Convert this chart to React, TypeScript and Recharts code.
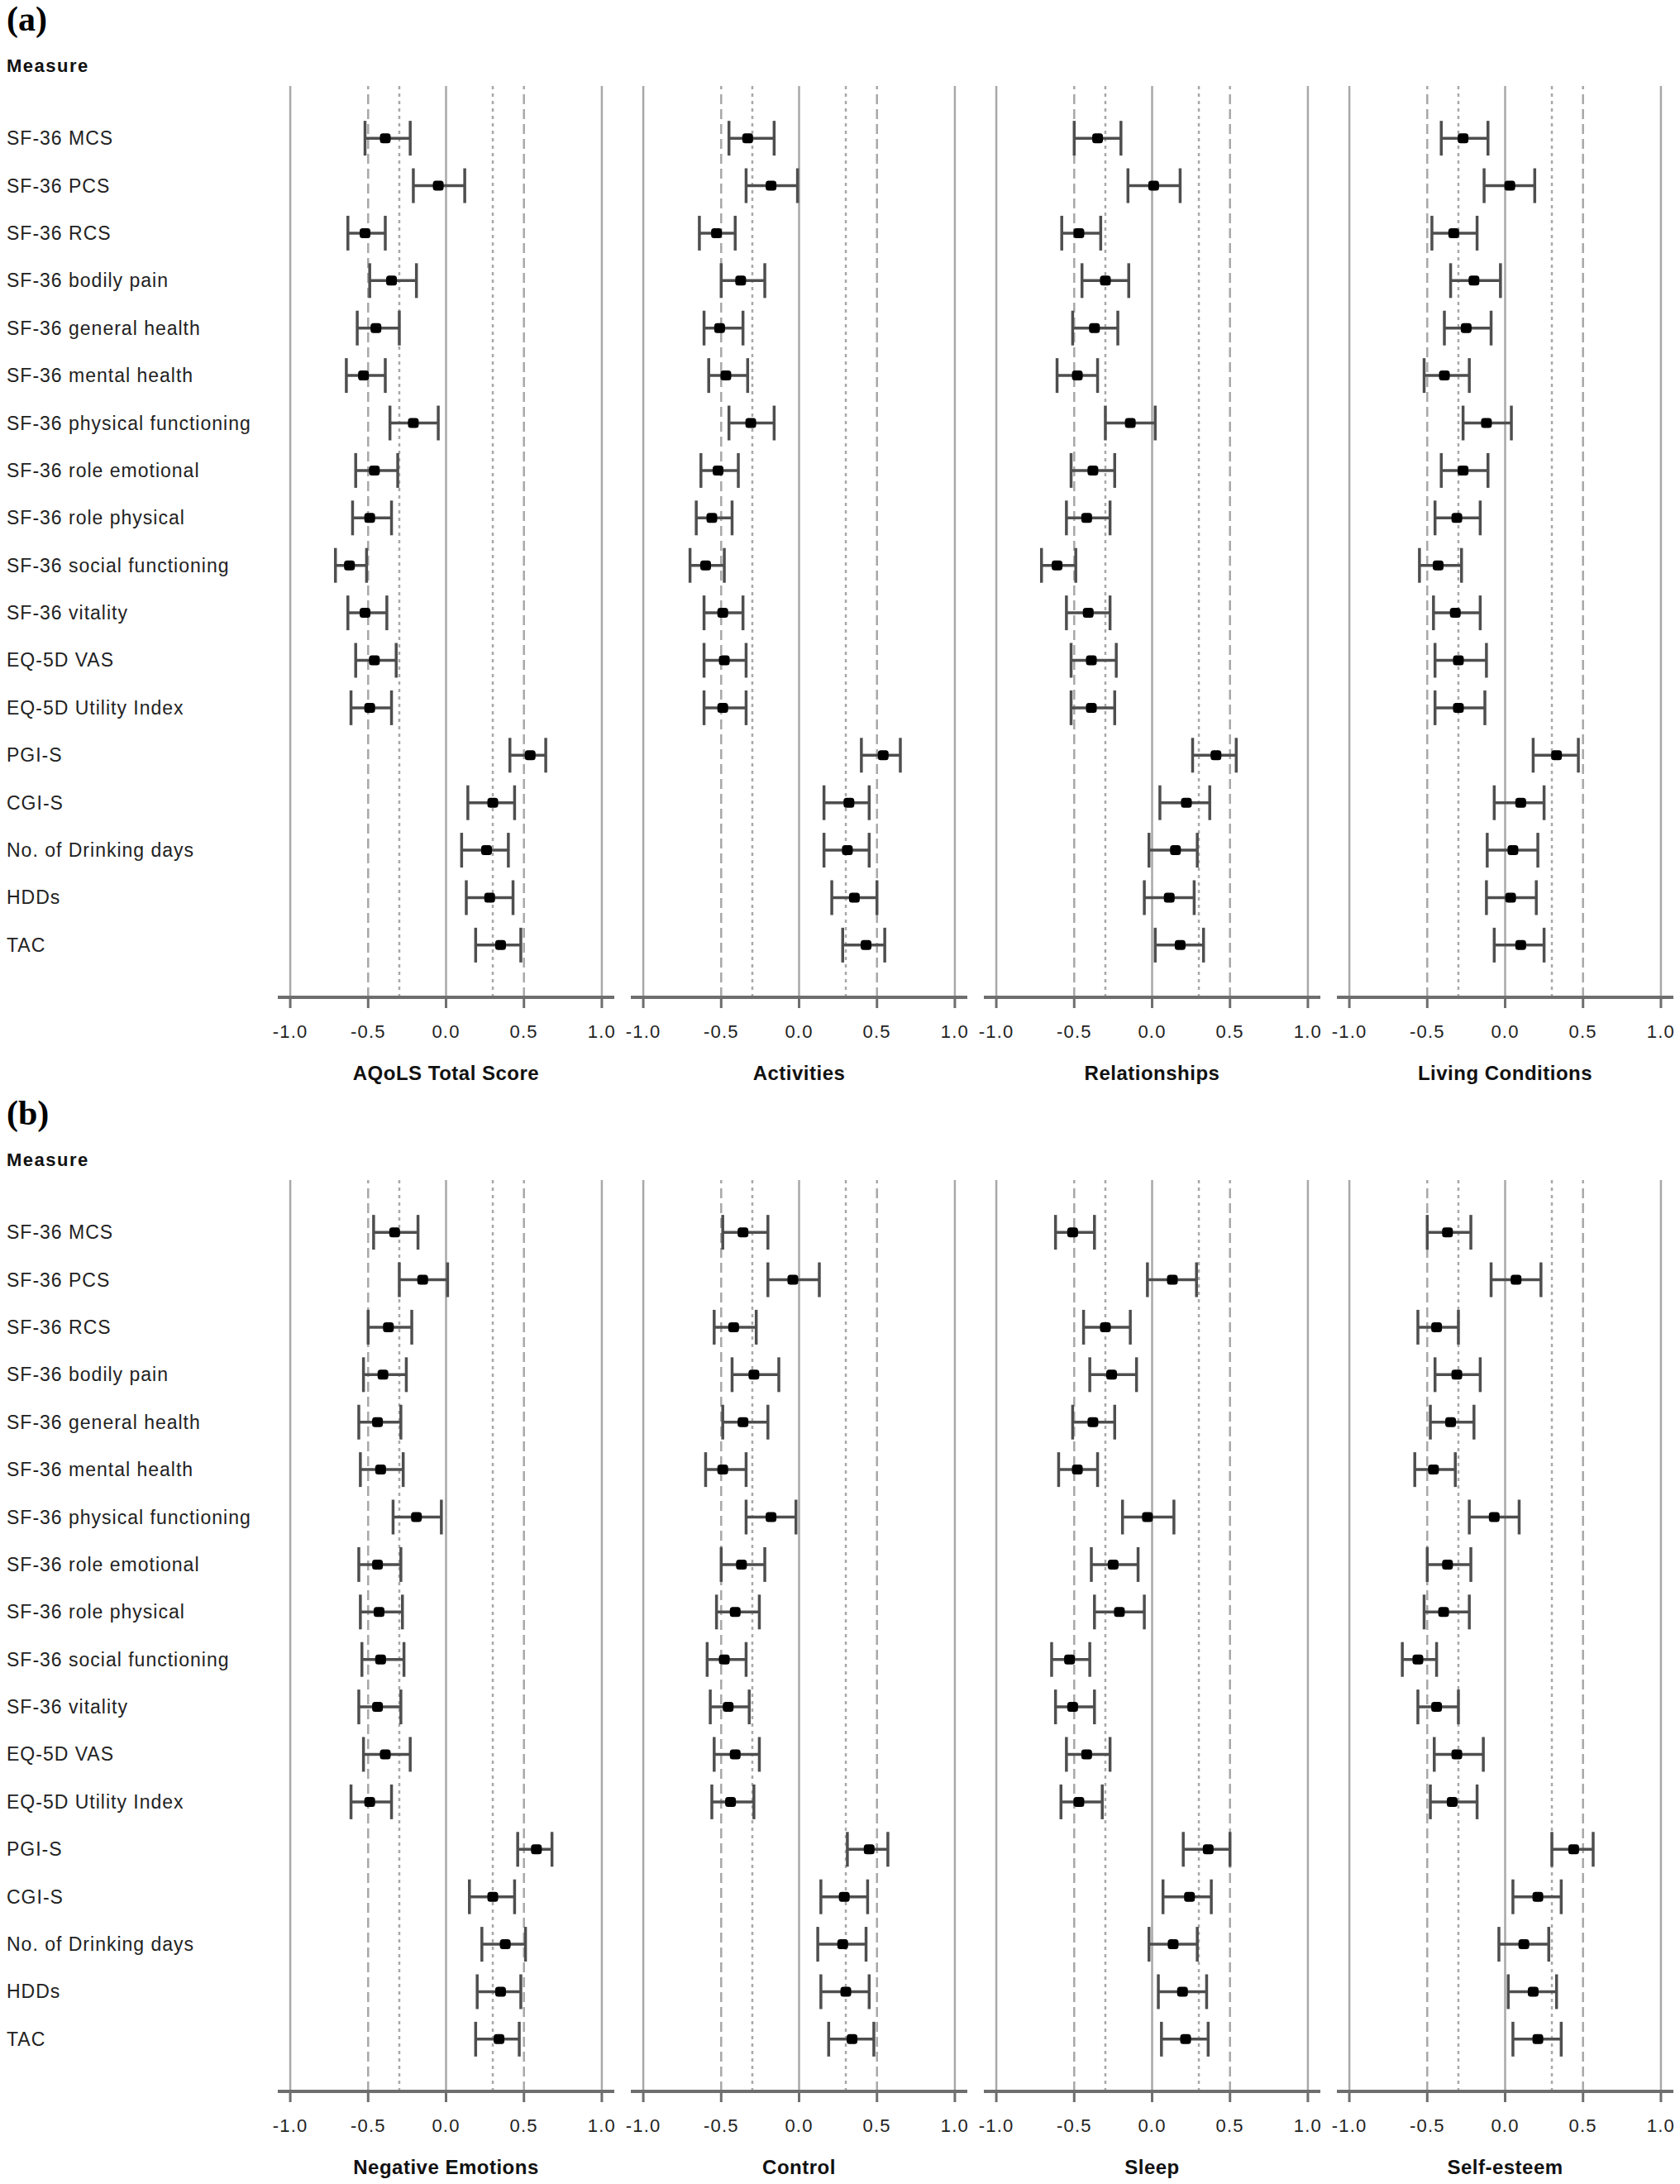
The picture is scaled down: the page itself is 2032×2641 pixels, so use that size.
import React from 'react';
import { ScatterChart, Scatter, XAxis, YAxis, ErrorBar, ReferenceLine } from 'recharts';

const measures = [
  'SF-36 MCS', 'SF-36 PCS', 'SF-36 RCS', 'SF-36 bodily pain', 'SF-36 general health',
  'SF-36 mental health', 'SF-36 physical functioning', 'SF-36 role emotional',
  'SF-36 role physical', 'SF-36 social functioning', 'SF-36 vitality', 'EQ-5D VAS',
  'EQ-5D Utility Index', 'PGI-S', 'CGI-S', 'No. of Drinking days', 'HDDs', 'TAC',
];
const rowIds = measures.map((_, i) => i + 1);
const xTicks = [-1, -0.5, 0, 0.5, 1];
const refSolid = [-1, 0, 1];
const refDashed = [-0.5, 0.5];
const refDotted = [-0.3, 0.3];

// [lower, estimate, upper]
const aqolsTotal = [
  [-0.52, -0.39, -0.23], [-0.21, -0.05, 0.12], [-0.63, -0.52, -0.39], [-0.49, -0.35, -0.19],
  [-0.57, -0.45, -0.30], [-0.64, -0.53, -0.39], [-0.36, -0.21, -0.05], [-0.58, -0.46, -0.31],
  [-0.60, -0.49, -0.35], [-0.71, -0.62, -0.51], [-0.63, -0.52, -0.38], [-0.58, -0.46, -0.32],
  [-0.61, -0.49, -0.35], [0.41, 0.54, 0.64], [0.14, 0.30, 0.44], [0.10, 0.26, 0.40],
  [0.13, 0.28, 0.43], [0.19, 0.35, 0.48],
];
const activities = [
  [-0.45, -0.33, -0.16], [-0.34, -0.18, -0.01], [-0.64, -0.53, -0.41], [-0.50, -0.375, -0.22],
  [-0.61, -0.51, -0.36], [-0.58, -0.47, -0.33], [-0.45, -0.31, -0.16], [-0.63, -0.52, -0.39],
  [-0.66, -0.56, -0.43], [-0.70, -0.60, -0.48], [-0.61, -0.49, -0.36], [-0.61, -0.48, -0.34],
  [-0.61, -0.49, -0.34], [0.40, 0.54, 0.65], [0.16, 0.32, 0.45], [0.16, 0.31, 0.45],
  [0.21, 0.355, 0.50], [0.28, 0.43, 0.55],
];
const relationships = [
  [-0.50, -0.35, -0.20], [-0.155, 0.01, 0.18], [-0.58, -0.47, -0.33], [-0.45, -0.30, -0.15],
  [-0.51, -0.37, -0.22], [-0.61, -0.48, -0.35], [-0.30, -0.14, 0.02], [-0.52, -0.38, -0.24],
  [-0.55, -0.42, -0.27], [-0.71, -0.61, -0.49], [-0.55, -0.41, -0.27], [-0.52, -0.39, -0.23],
  [-0.52, -0.39, -0.24], [0.26, 0.41, 0.54], [0.05, 0.22, 0.37], [-0.02, 0.15, 0.29],
  [-0.05, 0.11, 0.27], [0.02, 0.18, 0.33],
];
const livingConditions = [
  [-0.41, -0.27, -0.11], [-0.135, 0.03, 0.19], [-0.47, -0.33, -0.18], [-0.35, -0.20, -0.03],
  [-0.39, -0.25, -0.09], [-0.52, -0.39, -0.23], [-0.27, -0.12, 0.04], [-0.41, -0.27, -0.11],
  [-0.45, -0.31, -0.16], [-0.55, -0.43, -0.28], [-0.46, -0.32, -0.16], [-0.45, -0.30, -0.12],
  [-0.45, -0.30, -0.13], [0.18, 0.33, 0.47], [-0.07, 0.10, 0.25], [-0.115, 0.05, 0.21],
  [-0.12, 0.035, 0.20], [-0.07, 0.10, 0.25],
];
const negativeEmotions = [
  [-0.465, -0.33, -0.18], [-0.30, -0.15, 0.01], [-0.50, -0.37, -0.22], [-0.53, -0.405, -0.255],
  [-0.56, -0.44, -0.29], [-0.55, -0.42, -0.275], [-0.34, -0.19, -0.03], [-0.56, -0.44, -0.29],
  [-0.55, -0.43, -0.28], [-0.54, -0.42, -0.27], [-0.56, -0.44, -0.29], [-0.53, -0.39, -0.23],
  [-0.61, -0.49, -0.35], [0.46, 0.58, 0.68], [0.15, 0.30, 0.44], [0.23, 0.38, 0.51],
  [0.20, 0.35, 0.48], [0.19, 0.34, 0.47],
];
const control = [
  [-0.49, -0.36, -0.20], [-0.20, -0.04, 0.13], [-0.545, -0.42, -0.275], [-0.43, -0.29, -0.13],
  [-0.49, -0.36, -0.20], [-0.60, -0.49, -0.34], [-0.34, -0.18, -0.02], [-0.50, -0.37, -0.22],
  [-0.53, -0.41, -0.255], [-0.59, -0.48, -0.34], [-0.57, -0.455, -0.32], [-0.545, -0.41, -0.255],
  [-0.56, -0.44, -0.29], [0.31, 0.45, 0.57], [0.14, 0.29, 0.44], [0.12, 0.28, 0.43],
  [0.14, 0.30, 0.45], [0.19, 0.34, 0.48],
];
const sleep = [
  [-0.62, -0.51, -0.37], [-0.03, 0.13, 0.285], [-0.44, -0.30, -0.14], [-0.40, -0.26, -0.10],
  [-0.51, -0.38, -0.24], [-0.60, -0.48, -0.35], [-0.19, -0.03, 0.14], [-0.39, -0.25, -0.09],
  [-0.37, -0.21, -0.05], [-0.645, -0.53, -0.40], [-0.62, -0.51, -0.37], [-0.55, -0.42, -0.27],
  [-0.585, -0.47, -0.32], [0.20, 0.36, 0.50], [0.07, 0.24, 0.38], [-0.02, 0.135, 0.29],
  [0.04, 0.195, 0.35], [0.06, 0.215, 0.36],
];
const selfEsteem = [
  [-0.50, -0.37, -0.22], [-0.09, 0.07, 0.23], [-0.56, -0.44, -0.30], [-0.45, -0.31, -0.16],
  [-0.48, -0.35, -0.20], [-0.58, -0.46, -0.32], [-0.23, -0.07, 0.09], [-0.50, -0.37, -0.22],
  [-0.52, -0.395, -0.23], [-0.66, -0.56, -0.44], [-0.56, -0.44, -0.30], [-0.455, -0.31, -0.14],
  [-0.48, -0.34, -0.18], [0.30, 0.44, 0.565], [0.05, 0.21, 0.36], [-0.04, 0.12, 0.28],
  [0.02, 0.18, 0.33], [0.05, 0.21, 0.36],
];

const panelATitles = ['AQoLS Total Score', 'Activities', 'Relationships', 'Living Conditions'];
const panelBTitles = ['Negative Emotions', 'Control', 'Sleep', 'Self-esteem'];
const panelASeries = [aqolsTotal, activities, relationships, livingConditions];
const panelBSeries = [negativeEmotions, control, sleep, selfEsteem];

const FONT = '"Liberation Sans", Arial, Helvetica, sans-serif';
const PLOT_LEFT0 = 336;
const STEP = 427;
const PLOT_W = 407;
const PAD = 24;
const TOP = 104;
const PLOT_H = 1102;
const XAXIS_H = 110;
const CHART_H = TOP + PLOT_H + XAXIS_H;
const PANEL_OFFSET = 1323;

const toData = (rows: number[][]) =>
  rows.map(([lo, est, hi], i) => ({ x: est, y: i + 1, err: [est - lo, hi - est] }));

const Marker = (props: any) => {
  const { cx, cy } = props;
  if (cx == null || cy == null) return null;
  return <rect x={cx - 6.5} y={cy - 6} width={13} height={12} rx={3.5} ry={3.5} fill="#000" />;
};

const RowTick = (props: any) => {
  const { y, payload } = props;
  return (
    <text x={8} y={y} dy={8} fontSize={23} fontFamily={FONT} fill="#222" textAnchor="start" letterSpacing={1}>
      {measures[payload.value - 1]}
    </text>
  );
};

function Forest({ rows, title, index }: { rows: number[][]; title: string; index: number }) {
  const showLabels = index === 0;
  const width = showLabels ? PLOT_LEFT0 + PLOT_W + PAD : PLOT_W + 2 * PAD;
  const left = showLabels ? 0 : PLOT_LEFT0 + STEP * index - PAD;
  return (
    <div style={{ position: 'absolute', left, top: 0 }}>
      <ScatterChart
        width={width}
        height={CHART_H}
        margin={{ top: TOP, right: PAD, bottom: 0, left: showLabels ? 0 : PAD }}
      >
        {refSolid.map((v) => (
          <ReferenceLine key={'s' + v} x={v} stroke="#a8a8a8" strokeWidth={2.5} />
        ))}
        {refDashed.map((v) => (
          <ReferenceLine key={'d' + v} x={v} stroke="#a8a8a8" strokeWidth={2.5} strokeDasharray="12 6" />
        ))}
        {refDotted.map((v) => (
          <ReferenceLine key={'o' + v} x={v} stroke="#a8a8a8" strokeWidth={2.5} strokeDasharray="4 5" />
        ))}
        <XAxis
          type="number"
          dataKey="x"
          domain={[-1.08, 1.08]}
          allowDataOverflow
          ticks={xTicks}
          interval={0}
          tickFormatter={(v: number) => v.toFixed(1)}
          height={XAXIS_H}
          axisLine={{ stroke: '#6e6e6e', strokeWidth: 4 }}
          tickLine={{ stroke: '#6e6e6e', strokeWidth: 3 }}
          tickSize={13}
          tickMargin={20}
          tick={{ fontSize: 22, fill: '#222', fontFamily: FONT, letterSpacing: 1.2 } as any}
          label={{
            value: title,
            position: 'insideBottom',
            offset: 10,
            fontSize: 24,
            fontWeight: 'bold',
            fill: '#111',
            fontFamily: FONT,
            letterSpacing: 0.5,
          } as any}
        />
        <YAxis
          type="number"
          dataKey="y"
          domain={[-0.1, 19.1]}
          reversed
          allowDataOverflow
          ticks={rowIds}
          interval={0}
          hide={!showLabels}
          width={showLabels ? PLOT_LEFT0 : 0}
          axisLine={false}
          tickLine={false}
          tick={(p: any) => <RowTick {...p} />}
        />
        <Scatter data={toData(rows)} shape={(p: any) => <Marker {...p} />} isAnimationActive={false}>
          <ErrorBar dataKey="err" direction="x" width={21} stroke="#4e4e4e" strokeWidth={3.5} />
        </Scatter>
      </ScatterChart>
    </div>
  );
}

function Panel({ letter, titles, series, top }: { letter: string; titles: string[]; series: number[][][]; top: number }) {
  return (
    <div style={{ position: 'absolute', left: 0, top, width: 2032, height: CHART_H }}>
      <div
        style={{
          position: 'absolute', left: 8, top: 0, fontFamily: '"Liberation Serif", "Times New Roman", serif',
          fontWeight: 'bold', fontSize: 42, lineHeight: 1.12, color: '#000',
        }}
      >
        {letter}
      </div>
      <div
        style={{
          position: 'absolute', left: 8, top: 69, fontFamily: FONT, fontWeight: 'bold', fontSize: 22,
          lineHeight: 1, letterSpacing: 1.5, color: '#111',
        }}
      >
        Measure
      </div>
      {series.map((rows, i) => (
        <Forest key={titles[i]} rows={rows} title={titles[i]} index={i} />
      ))}
    </div>
  );
}

export default function App() {
  return (
    <div style={{ position: 'relative', width: 2032, height: 2641, background: '#fff', overflow: 'hidden' }}>
      <style>{'body{margin:0;background:#fff;}'}</style>
      <Panel letter="(a)" titles={panelATitles} series={panelASeries} top={0} />
      <Panel letter="(b)" titles={panelBTitles} series={panelBSeries} top={PANEL_OFFSET} />
    </div>
  );
}
